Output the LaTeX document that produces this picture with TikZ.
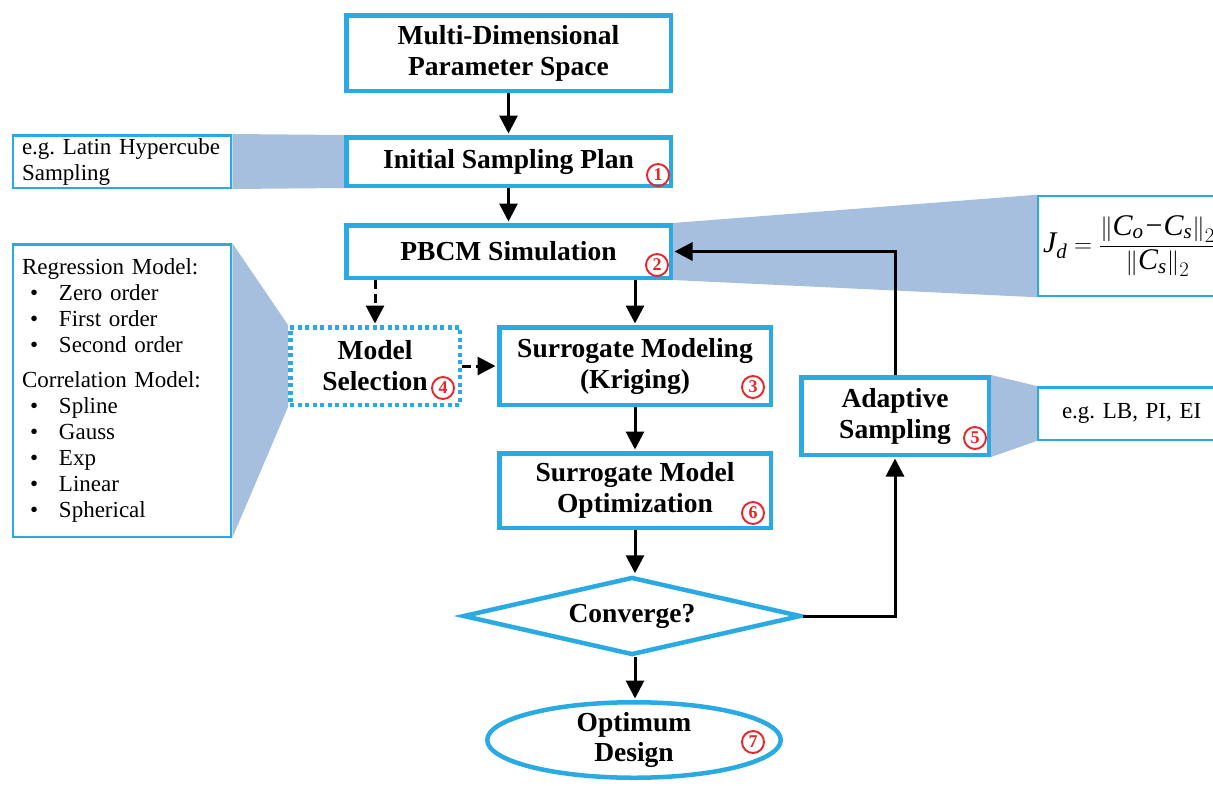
\documentclass[tikz,border=0pt]{standalone}
\usepackage{fontspec}
\usepackage{amsmath}
\setmainfont{Liberation Serif}
\usetikzlibrary{shapes.geometric,arrows.meta,backgrounds}
\definecolor{bblue}{RGB}{41,170,226}
\definecolor{shadeblue}{RGB}{167,191,222}
\definecolor{nred}{RGB}{232,37,42}
\frenchspacing
\begin{document}
\begin{tikzpicture}[x=1pt,y=-1pt,
  mainbox/.style={draw=bblue,line width=4.5pt,fill=white,inner sep=0pt,align=center,font=\fontsize{27.5}{31}\selectfont\bfseries},
  maintext/.style={inner sep=0pt,align=center,font=\fontsize{27.5}{30}\selectfont\bfseries},
  notebox/.style={draw=bblue,line width=2.5pt,fill=white,inner ysep=0pt,align=left,font=\fontsize{23}{26}\selectfont},
  arr/.style={line width=3pt,-{Triangle[length=18pt,width=18pt]},shorten >=1.5pt},
  darr/.style={arr,dash pattern=on 9pt off 5pt},
  numc/.style={circle,draw=nred,line width=1.9pt,text=nred,inner sep=0pt,minimum size=22pt,font=\fontsize{18}{18}\selectfont\bfseries},
  shadearea/.style={fill=shadeblue}
]
\useasboundingbox (0,0) rectangle (1213,785);

% main flow
\node[mainbox,minimum width=324.5pt,minimum height=75.5pt] (space) at (508.5,53) {Multi-Dimensional\\Parameter Space};
\node[mainbox,minimum width=324.5pt,minimum height=48.5pt] (init) at (508.5,161.5) {Initial Sampling Plan};
\node[mainbox,minimum width=324.5pt,minimum height=52.5pt] (pbcm) at (508.5,251.5) {PBCM Simulation};
\node[mainbox,dash pattern=on 4pt off 3.5pt,minimum width=169.5pt,minimum height=77.5pt] (ms) at (375,366) {Model\\Selection};
\node[mainbox,minimum width=271.5pt,minimum height=77.5pt] (surr) at (635,366) {Surrogate Modeling\\(Kriging)};
\node[mainbox,minimum width=271.5pt,minimum height=74.5pt] (sopt) at (635,490.5) {Surrogate Model\\Optimization};
\node[mainbox,diamond,minimum width=338pt,minimum height=78pt] (conv) at (632,616) {};
\node[maintext] (convt) at (conv) {Converge?};
\node[mainbox,ellipse,minimum width=293.5pt,minimum height=75.5pt] (od) at (634,740) {};
\node[maintext] (odt) at (od) {Optimum\\Design};
\node[mainbox,minimum width=187.5pt,minimum height=77.5pt] (adapt) at (895,416) {Adaptive\\Sampling};

% notes
\node[notebox,inner xsep=9pt,text width=200pt,minimum height=52.5pt] (lhs) at (122,161.5) {e.g. Latin Hypercube\\Sampling};
\node[notebox,inner xsep=9pt,text width=200pt,minimum height=292.5pt] (list) at (122,390.5) {%
Regression Model:\\
\hspace*{8pt}\makebox[29pt][l]{•}Zero order\\
\hspace*{8pt}\makebox[29pt][l]{•}First order\\
\hspace*{8pt}\makebox[29pt][l]{•}Second order\\[9pt]
Correlation Model:\\
\hspace*{8pt}\makebox[29pt][l]{•}Spline\\
\hspace*{8pt}\makebox[29pt][l]{•}Gauss\\
\hspace*{8pt}\makebox[29pt][l]{•}Exp\\
\hspace*{8pt}\makebox[29pt][l]{•}Linear\\
\hspace*{8pt}\makebox[29pt][l]{•}Spherical};
\node[notebox,inner xsep=5pt,text width=214pt,minimum height=100pt,font=\fontsize{30}{32}\selectfont] (form) at (1150,246) {%
$\displaystyle \textit{J}_{\textit{d}}=\frac{\left\|\textit{C}_{\textit{o}}\kern2pt\text{−}\kern1pt\textit{C}_{\textit{s}}\right\|_{2}}{\left\|\textit{C}_{\textit{s}}\right\|_{2}}$};
\node[notebox,inner xsep=24pt,text width=164pt,minimum height=52.5pt] (lb) at (1144,413.5) {e.g. LB, PI, EI};

% shaded callouts
\begin{scope}[on background layer]
\fill[shadearea] (lhs.north east) -- (init.north west) -- (init.south west) -- (lhs.south east) -- cycle;
\fill[shadearea] (list.north east) -- (ms.north west) -- (ms.south west) -- (list.south east) -- cycle;
\fill[shadearea] (pbcm.north east) -- (form.north west) -- (form.south west) -- (pbcm.south east) -- cycle;
\fill[shadearea] (adapt.north east) -- (lb.north west) -- (lb.south west) -- (adapt.south east) -- cycle;
\end{scope}

% numbers
\node[numc] (c1) at (658,175) {1};
\node[numc] (c2) at (657,265) {2};
\node[numc] (c3) at (753,387) {3};
\node[numc] (c4) at (443,388) {4};
\node[numc] (c5) at (975,438) {5};
\node[numc] (c6) at (753,513) {6};
\node[numc] (c7) at (753,742) {7};

% connectors
\draw[arr] (space.south) -- (init.north);
\draw[arr] (init.south) -- (pbcm.north);
\draw[arr] (pbcm.south -| surr.north) -- (surr.north);
\draw[darr] (pbcm.south -| ms.north) -- (ms.north);
\draw[darr] (ms.east) -- (surr.west);
\draw[arr] (surr.south) -- (sopt.north);
\draw[arr] (sopt.south) -- (sopt.south |- conv.north);
\draw[arr] (conv.south -| sopt.south) -- (od.north -| sopt.south);
\draw[arr] (conv.east) -- (conv.east -| adapt.south) -- (adapt.south);
\draw[arr] (adapt.north) -- (adapt.north |- pbcm.east) -- (pbcm.east);
\end{tikzpicture}
\end{document}
